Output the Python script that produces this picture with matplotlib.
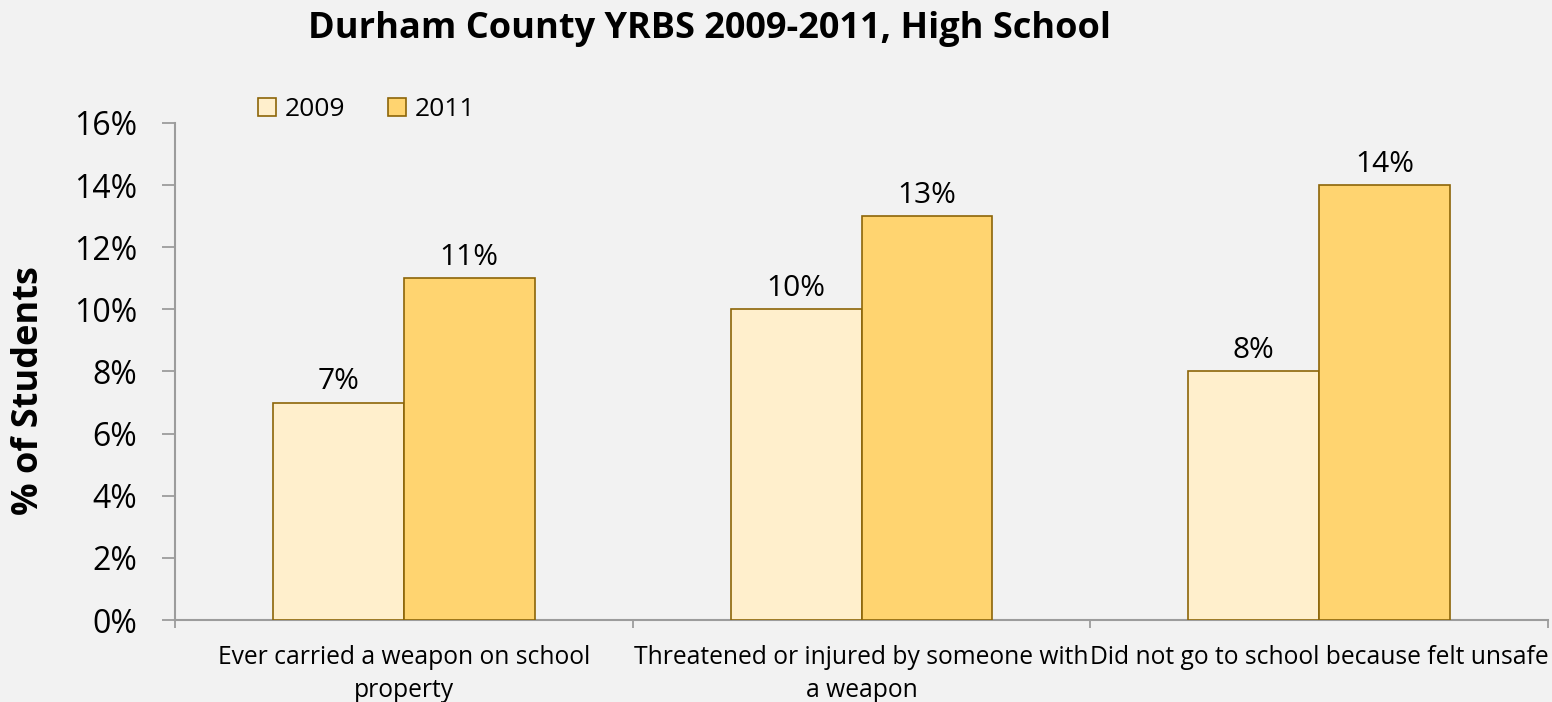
import matplotlib.pyplot as plt
import numpy as np
from matplotlib.ticker import FuncFormatter, FixedLocator

plt.rcParams["font.family"] = ["Open Sans", "DejaVu Sans"]

categories = [
    "Ever carried a weapon on school\nproperty",
    "Threatened or injured by someone with\na weapon",
    "Did not go to school because felt unsafe",
]
years = ["2009", "2011"]
values_2009 = [7, 10, 8]
values_2011 = [11, 13, 14]

BG = "#F2F2F2"
EDGE = "#8C6508"
COLORS = ["#FFEFCC", "#FFD470"]
AXIS_GREY = "#9C9C9C"

fig = plt.figure(figsize=(15.52, 7.02), dpi=100, facecolor=BG)
ax = fig.add_axes([0.1128, 0.1168, 0.8846, 0.708])
ax.set_facecolor(BG)

x = np.arange(len(categories))
width = 0.286
for i, (year, vals) in enumerate(zip(years, [values_2009, values_2011])):
    offs = (i - 0.5) * width
    bars = ax.bar(x + offs, vals, width, color=COLORS[i], edgecolor=EDGE,
                  linewidth=1.2, label=year, zorder=3)
    for b, v in zip(bars, vals):
        ax.text(b.get_x() + b.get_width() / 2, v + 0.2, f"{v}%",
                ha="center", va="bottom", fontsize=21.5)

ax.set_xlim(-0.5, len(categories) - 0.5)
ax.set_ylim(0, 16)
ax.set_yticks(np.arange(0, 17, 2))
ax.yaxis.set_major_formatter(FuncFormatter(lambda v, _: f"{v:.0f}%"))
ax.tick_params(axis="y", labelsize=23, length=9.5, width=1.3, color=AXIS_GREY, pad=18)

# category labels sit between the boundary tick marks
ax.xaxis.set_major_locator(FixedLocator(np.arange(-0.5, len(categories), 1.0)))
ax.xaxis.set_major_formatter(FuncFormatter(lambda v, _: ""))
ax.tick_params(axis="x", length=6, width=1.3, color=AXIS_GREY)
for xi, lab in zip(x, categories):
    ax.text(xi, -0.8, lab, ha="center", va="top", fontsize=17.7,
            linespacing=1.42)

for side in ["top", "right"]:
    ax.spines[side].set_visible(False)
for side in ["left", "bottom"]:
    ax.spines[side].set_color(AXIS_GREY)
    ax.spines[side].set_linewidth(1.5)

leg = ax.legend(loc="center left", bbox_to_anchor=(258 / 1552, 1 - 110 / 702),
                bbox_transform=fig.transFigure, ncol=2, frameon=False,
                fontsize=19, handlelength=0.68, handleheight=0.68,
                handletextpad=0.34, columnspacing=1.6, borderpad=0,
                borderaxespad=0)

fig.text(709 / 1552, 1 - 38 / 702, "Durham County YRBS 2009-2011, High School",
         ha="center", va="baseline", fontsize=26, fontweight="bold")
fig.text(29 / 1552, 1 - 391 / 702, "% of Students", rotation=90,
         ha="center", va="center", fontsize=26, fontweight="bold")

fig.savefig("out.png", dpi=100, facecolor=BG)
